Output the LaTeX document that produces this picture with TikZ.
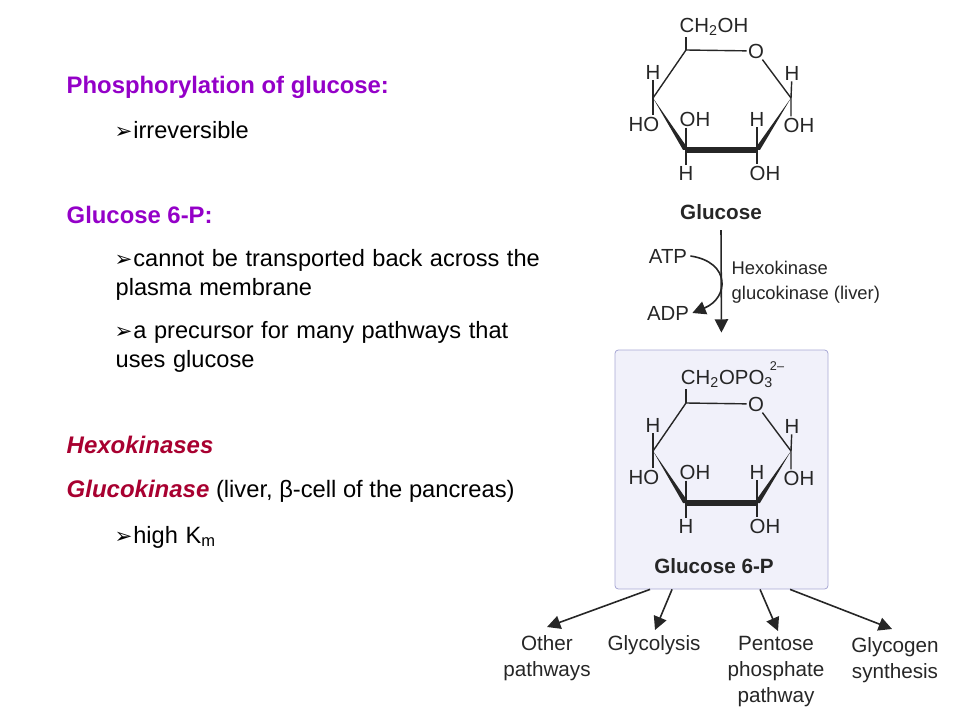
\documentclass[tikz,border=0pt]{standalone}
\usepackage{fontspec}
\setmainfont{Liberation Sans}
\newfontfamily\arrowfont{DejaVu Sans}
\usetikzlibrary{arrows.meta}
\definecolor{headcol}{HTML}{9400C8}
\definecolor{kinasecol}{HTML}{A80030}
\definecolor{inkcol}{HTML}{262626}
\definecolor{boxfill}{HTML}{F1F1FA}
\definecolor{boxline}{HTML}{A8A8D4}
\newcommand{\tick}{\kern-1.5pt{\arrowfont\fontsize{16}{16}\selectfont\char"27A2}\kern0.6pt}
\begin{document}
\begin{tikzpicture}[x=0.75pt, y=-0.75pt, line width=1.05pt,
    head/.style = {anchor=base west, inner sep=0pt, font=\fontsize{17.9}{18}\selectfont\bfseries, text=headcol},
    para/.style = {anchor=base west, inner sep=0pt, font=\fontsize{17.7}{18}\selectfont\spaceskip 0.32em\relax},
    atom/.style = {inner sep=0.5pt, font=\fontsize{15.3}{15.3}\selectfont, text=inkcol},
    molname/.style = {font=\fontsize{15.5}{15.5}\selectfont\bfseries, text=inkcol},
    route/.style = {align=center, inner sep=0pt, text=inkcol, font=\fontsize{15.5}{19.5}\selectfont},
    enzyme/.style = {anchor=west, inner sep=0pt, text=inkcol, font=\fontsize{13.8}{13.8}\selectfont},
    bond/.style = {draw=inkcol},
    flow/.style = {draw=inkcol, line width=1.2pt, -{Triangle[length=10pt, width=10pt]}}]
    \useasboundingbox (0,0) rectangle (960,720);
    \node[line width=0.6pt, draw=boxline, fill=boxfill, rounded corners=2.5pt, minimum width=159.75pt, minimum height=179.25pt] (box) at (721.5,469.5) {};

    \node[head] (t1) at (66,94) {Phosphorylation of glucose:};
    \node[para] (t2) at (116,139) {\tick irreversible};
    \node[head] (t3) at (66,224) {Glucose 6-P:};
    \node[para] (t4) at (116,267) {\tick cannot be transported back across the};
    \node[para] (t5) at (115,296) {plasma membrane};
    \node[para] (t6) at (116,339) {\tick a precursor for many pathways that};
    \node[para] (t7) at (115,367) {uses glucose};
    \node[head, text=kinasecol, font=\fontsize{18}{18}\selectfont\bfseries\itshape] (t8) at (66,453) {Hexokinases};
    \node[para, font=\fontsize{17.8}{18}\selectfont] (t9) at (66,497) {\textcolor{kinasecol}{\fontsize{18}{18}\selectfont\bfseries\itshape Glucokinase} (liver, β-cell of the pancreas)};
    \node[para] (t10) at (116,543) {\tick high K\textsubscript{m}};

    \foreach \m/\dy in {g/0, p/353} {
        \begin{scope}[shift={(0,\dy)}]
            \coordinate (\m c1) at (791,98);
            \coordinate (\m c2) at (757,150);
            \coordinate (\m c3) at (686,150);
            \coordinate (\m c4) at (653,98);
            \coordinate (\m c5) at (686,50);
            \node[atom] (\m o) at (756,51) {O};
            \node[atom] (\m h4) at (653,72) {H};
            \node[atom] (\m ho4) at (644,124) {HO};
            \node[atom] (\m h1) at (792,73) {H};
            \node[atom] (\m oh1) at (799,125) {OH};
            \node[atom] (\m oh3) at (695,119) {OH};
            \node[atom] (\m h2) at (757,119) {H};
            \node[atom] (\m h3) at (686,173) {H};
            \node[atom] (\m oh2) at (765,173) {OH};
            \draw[bond] (\m c4) -- (\m c5) -- (\m o) -- (\m c1);
            \fill[inkcol] (\m c4) -- ([xshift=-2.2pt]\m c3) -- ([xshift=2.2pt]\m c3) -- cycle;
            \fill[inkcol] (\m c1) -- ([xshift=-2.2pt]\m c2) -- ([xshift=2.2pt]\m c2) -- cycle;
            \draw[bond, line width=3.8pt] (\m c3) -- (\m c2);
            \draw[bond] (\m h4) -- (\m c4) -- (\m c4 |- \m ho4.north);
            \draw[bond] (\m h1) -- (\m c1) -- (\m c1 |- \m oh1.north);
            \draw[bond] (\m c3 |- \m oh3.south) -- (\m c3) -- (\m h3);
            \draw[bond] (\m h2) -- (\m c2) -- (\m c2 |- \m oh2.north);
        \end{scope}
    }

    \node[atom] (gtop) at (714,27) {CH\textsubscript{2}OH};
    \node[atom] (ptop) at (727,379) {CH\textsubscript{2}OPO\textsubscript{3}};
    \node[atom, font=\fontsize{9.5}{9.5}\selectfont] (charge) at (777,366) {2–};
    \draw[bond] (gc5) -- (gc5 |- gtop.south);
    \draw[bond] (pc5) -- (pc5 |- ptop.south);
    \node[molname] (glucose) at (721,212) {Glucose};
    \node[molname] (g6p) at (714,566) {Glucose 6-P};

    \node[atom, inner sep=2pt] (atp) at (668,256) {ATP};
    \node[atom, inner sep=2pt] (adp) at (668,313) {ADP};
    \node[enzyme] (hexo) at (731,268) {Hexokinase};
    \node[enzyme] (gluco) at (731,295) {glucokinase (liver)};
    \draw[flow, shorten <=4pt, shorten >=12.75pt] (glucose.south) -- (box.north);
    \draw[flow] (atp.east) .. controls (731,262) and (729,298) .. (adp.east);

    \node[route, anchor=north] (other) at (547,635) {Other\\pathways};
    \node[route, anchor=north] (glyco) at (654,635) {Glycolysis};
    \node[route, anchor=north] (pentose) at (776,636) {Pentose\\phosphate\\pathway};
    \node[route, anchor=north] (synth) at (895,637) {Glycogen\\synthesis};
    \draw[flow] ([xshift=-53.6pt]box.south) -- ([yshift=6pt]other.north);
    \draw[flow] ([xshift=-37.1pt]box.south) -- ([xshift=0.75pt, yshift=3.75pt]glyco.north);
    \draw[flow] ([xshift=28.9pt]box.south) -- ([xshift=1.5pt, yshift=3.75pt]pentose.north);
    \draw[flow] ([xshift=51.4pt]box.south) -- ([xshift=-2.25pt, yshift=6pt]synth.north);
\end{tikzpicture}
\end{document}
